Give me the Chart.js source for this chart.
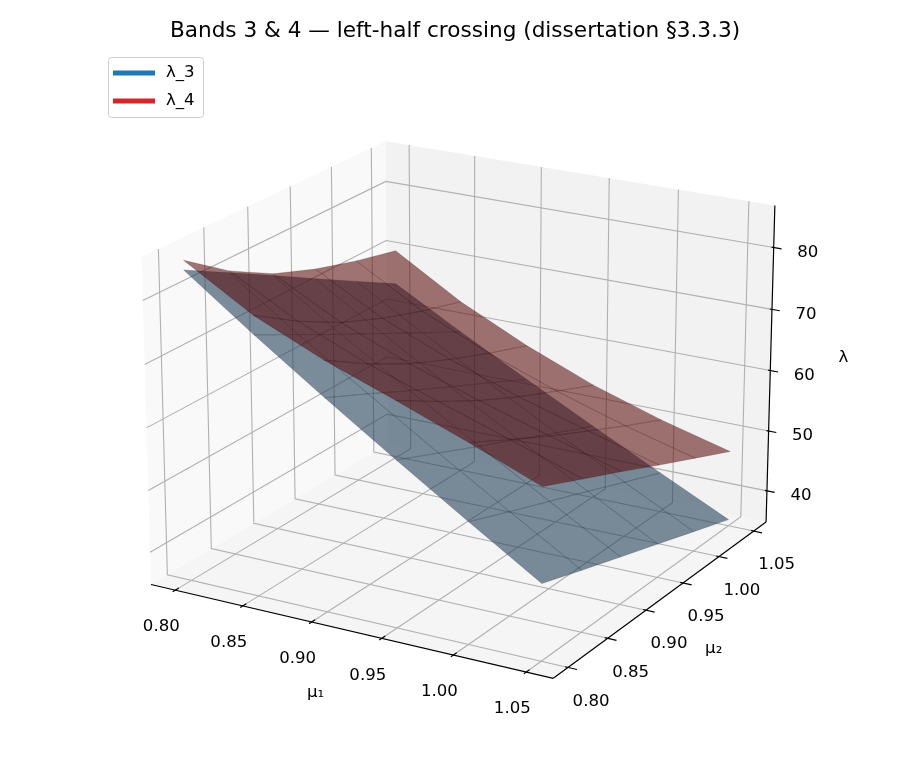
<!DOCTYPE html>
<html>
<head>
<meta charset="utf-8">
<script src="https://cdn.jsdelivr.net/npm/chart.js@4.4.0/dist/chart.umd.min.js"></script>
<style>
  html, body { margin: 0; padding: 0; background: #fff; }
  #wrap { width: 910px; height: 780px; position: relative; }
</style>
</head>
<body>
<div id="wrap"><canvas id="grafica"></canvas></div>
<script>
// datos
const mu1 = [0.80, 0.85, 0.90, 0.95, 1.00, 1.05];
const mu2 = [0.80, 0.85, 0.90, 0.95, 1.00, 1.05];
// filas = mu1, columnas = mu2
const lambda3 = [
  [84.2, 80.3, 76.4, 72.4, 68.5, 64.6],
  [76.2, 72.6, 69.0, 65.5, 62.0, 58.5],
  [68.6, 65.4, 62.1, 58.9, 55.8, 52.6],
  [61.2, 58.3, 55.4, 52.6, 49.7, 46.9],
  [54.0, 51.4, 48.9, 46.4, 43.8, 41.3],
  [46.9, 44.6, 42.4, 40.2, 38.0, 35.8]
];
const lambda4 = [
  [85.7, 80.6, 76.7, 74.0, 71.9, 70.2],
  [79.2, 74.7, 70.9, 68.0, 65.6, 63.6],
  [74.4, 70.1, 66.4, 63.4, 60.7, 58.3],
  [70.4, 66.4, 62.7, 59.5, 56.6, 53.8],
  [66.2, 62.7, 59.3, 56.2, 53.1, 50.2],
  [61.8, 58.9, 56.0, 53.0, 50.1, 47.2]
];
const mu1Ticks = [0.80, 0.85, 0.90, 0.95, 1.00, 1.05];
const mu2Ticks = [0.80, 0.85, 0.90, 0.95, 1.00, 1.05];
const lambdaTicks = [40, 50, 60, 70, 80];
const nombres = ['λ_3', 'λ_4'];
const titulo = 'Bands 3 & 4 — left-half crossing (dissertation §3.3.3)';

// vista
const ELEV = 20, AZIM = -60, DIST = 10;
const PX = 3996, CX = 464.5, CY = 394, ANCHO = 910, ALTO = 780;
const FUENTE = '"DejaVu Sans", Verdana, sans-serif';

const aspecto = (() => { const a = [4, 4, 3]; const n = Math.hypot(...a); return a.map(v => v * 1.8294640721620434 / n); })();
const el = ELEV * Math.PI / 180, az = AZIM * Math.PI / 180;
const W = [Math.cos(el) * Math.cos(az), Math.cos(el) * Math.sin(az), Math.sin(el)];
let U = [-W[1], W[0], 0];
const nu = Math.hypot(U[0], U[1]); U = [U[0] / nu, U[1] / nu, 0];
const V = [W[1] * U[2] - W[2] * U[1], W[2] * U[0] - W[0] * U[2], W[0] * U[1] - W[1] * U[0]];

function limites(lo, hi, margen) {
  const p = (hi - lo) * margen, a = lo - p, b = hi + p, d = (b - a) / 48;
  return [a - d, b + d];
}
const box1 = limites(Math.min(...mu1), Math.max(...mu1), 0.05);
const box2 = limites(Math.min(...mu2), Math.max(...mu2), 0.05);
const todos = lambda3.flat().concat(lambda4.flat());
const boxZ = limites(Math.min(...todos), Math.max(...todos), 0);

function proj(m1, m2, l) {
  const d = [
    ((m1 - box1[0]) / (box1[1] - box1[0]) - 0.5) * aspecto[0],
    ((m2 - box2[0]) / (box2[1] - box2[0]) - 0.5) * aspecto[1],
    ((l - boxZ[0]) / (boxZ[1] - boxZ[0]) - 0.5) * aspecto[2]
  ];
  const dot = (a) => a[0] * d[0] + a[1] * d[1] + a[2] * d[2];
  const den = DIST - dot(W);
  return { x: dot(U) / den, y: dot(V) / den, depth: den };
}

function puntos(tabla) {
  const out = [];
  mu1.forEach((a, i) => mu2.forEach((b, j) => out.push(proj(a, b, tabla[i][j]))));
  return out;
}

const caras = [
  { fill: 'rgba(37,65,88,0.6)', edge: 'rgba(20,35,50,0.35)' },
  { fill: 'rgba(87,5,5,0.55)', edge: 'rgba(40,0,0,0.3)' }
];

const ejes3d = {
  id: 'ejes3d',
  beforeDatasetsDraw(chart) {
    const ctx = chart.ctx, sx = chart.scales.x, sy = chart.scales.y;
    const P = (a, b, c) => { const p = proj(a, b, c); return [sx.getPixelForValue(p.x), sy.getPixelForValue(p.y)]; };
    const [x0, x1] = box1, [y0, y1] = box2, [z0, z1] = boxZ;
    const path = (pts) => { ctx.beginPath(); pts.forEach((q, k) => { const r = P(...q); k ? ctx.lineTo(r[0], r[1]) : ctx.moveTo(r[0], r[1]); }); };
    ctx.save();
    // paneles
    [[[[x0, y0, z0], [x0, y1, z0], [x0, y1, z1], [x0, y0, z1]], '#f9f9f9'],
     [[[x0, y1, z0], [x1, y1, z0], [x1, y1, z1], [x0, y1, z1]], '#f2f2f2'],
     [[[x0, y0, z0], [x1, y0, z0], [x1, y1, z0], [x0, y1, z0]], '#f5f5f5']].forEach(([pts, c]) => {
      path(pts); ctx.closePath(); ctx.fillStyle = c; ctx.fill();
    });
    // rejilla
    ctx.strokeStyle = '#b0b0b0'; ctx.lineWidth = 1.1;
    mu1Ticks.forEach(t => { path([[t, y0, z0], [t, y1, z0], [t, y1, z1]]); ctx.stroke(); });
    mu2Ticks.forEach(t => { path([[x1, t, z0], [x0, t, z0], [x0, t, z1]]); ctx.stroke(); });
    lambdaTicks.forEach(t => { path([[x0, y0, t], [x0, y1, t], [x1, y1, t]]); ctx.stroke(); });
    // ejes
    ctx.strokeStyle = '#000'; ctx.lineWidth = 1.2;
    path([[x0, y0, z0], [x1, y0, z0]]); ctx.stroke();
    path([[x1, y0, z0], [x1, y1, z0]]); ctx.stroke();
    path([[x1, y1, z0], [x1, y1, z1]]); ctx.stroke();
    ctx.fillStyle = '#000'; ctx.font = '16.6px ' + FUENTE;
    ctx.textAlign = 'center'; ctx.textBaseline = 'middle';
    mu1Ticks.forEach(t => {
      path([[t, y0 + 0.004, z0], [t, y0 - 0.003, z0]]); ctx.stroke();
      const r = P(t, y0, z0); ctx.fillText(t.toFixed(2), r[0] - 14, r[1] + 37);
    });
    mu2Ticks.forEach(t => {
      path([[x1 - 0.002, t, z0], [x1 + 0.006, t, z0]]); ctx.stroke();
      const r = P(x1, t, z0); ctx.fillText(t.toFixed(2), r[0] + 23, r[1] + 34);
    });
    lambdaTicks.forEach(t => {
      path([[x1 - 0.0015, y1, t], [x1 + 0.0055, y1, t]]); ctx.stroke();
      const r = P(x1, y1, t); ctx.fillText(String(t), r[0] + 34, r[1] + 5);
    });
    let r = P((x0 + x1) / 2, y0, z0); ctx.fillText('μ₁', r[0] - 31, r[1] + 63);
    r = P(x1, (y0 + y1) / 2, z0); ctx.fillText('μ₂', r[0] + 49, r[1] + 52);
    r = P(x1, y1, (z0 + z1) / 2); ctx.fillText('λ', r[0] + 73, r[1] - 8);

    // superficies
    chart.data.datasets.forEach((ds, k) => {
      const pts = chart.getDatasetMeta(k).data;
      const n = mu2.length, lista = [];
      for (let i = 0; i < mu1.length - 1; i++) {
        for (let j = 0; j < n - 1; j++) {
          const idx = [i * n + j, (i + 1) * n + j, (i + 1) * n + j + 1, i * n + j + 1];
          const depth = idx.reduce((s, q) => s + ds.data[q].depth, 0) / 4;
          lista.push({ idx, depth });
        }
      }
      lista.sort((a, b) => b.depth - a.depth);
      ctx.fillStyle = caras[k].fill; ctx.strokeStyle = caras[k].edge; ctx.lineWidth = 0.6;
      lista.forEach(c => {
        ctx.beginPath();
        c.idx.forEach((q, m) => { const e = pts[q]; m ? ctx.lineTo(e.x, e.y) : ctx.moveTo(e.x, e.y); });
        ctx.closePath(); ctx.fill(); ctx.stroke();
      });
    });
    ctx.restore();
  },
  afterDraw(chart) {
    const ctx = chart.ctx;
    ctx.save();
    ctx.fillStyle = '#000'; ctx.textAlign = 'center'; ctx.textBaseline = 'middle';
    ctx.font = '21.6px ' + FUENTE;
    ctx.fillText(titulo, 455, 31);
    // leyenda
    ctx.beginPath(); ctx.roundRect(108.5, 57.5, 95, 60, 3);
    ctx.fillStyle = 'rgba(255,255,255,0.8)'; ctx.fill();
    ctx.strokeStyle = '#cccccc'; ctx.lineWidth = 1; ctx.stroke();
    ctx.font = '16.6px ' + FUENTE; ctx.textAlign = 'left';
    chart.data.datasets.forEach((ds, k) => {
      const y = 73 + k * 28;
      ctx.strokeStyle = ds.borderColor; ctx.lineWidth = 5;
      ctx.beginPath(); ctx.moveTo(113, y); ctx.lineTo(155, y); ctx.stroke();
      ctx.fillStyle = '#000'; ctx.fillText(ds.label, 166, y);
    });
    ctx.restore();
  }
};

new Chart(document.getElementById('grafica'), {
  type: 'scatter',
  data: {
    datasets: [
      { label: nombres[0], data: puntos(lambda3), borderColor: '#1f77b4', backgroundColor: '#1f77b4', pointRadius: 0 },
      { label: nombres[1], data: puntos(lambda4), borderColor: '#d62728', backgroundColor: '#d62728', pointRadius: 0 }
    ]
  },
  options: {
    responsive: true,
    maintainAspectRatio: false,
    animation: false,
    events: [],
    layout: { padding: 0 },
    scales: {
      x: { type: 'linear', display: false, min: -CX / PX, max: (ANCHO - CX) / PX },
      y: { type: 'linear', display: false, min: -(ALTO - CY) / PX, max: CY / PX }
    },
    plugins: { legend: { display: false }, title: { display: false }, tooltip: { enabled: false } }
  },
  plugins: [ejes3d]
});
</script>
</body>
</html>
